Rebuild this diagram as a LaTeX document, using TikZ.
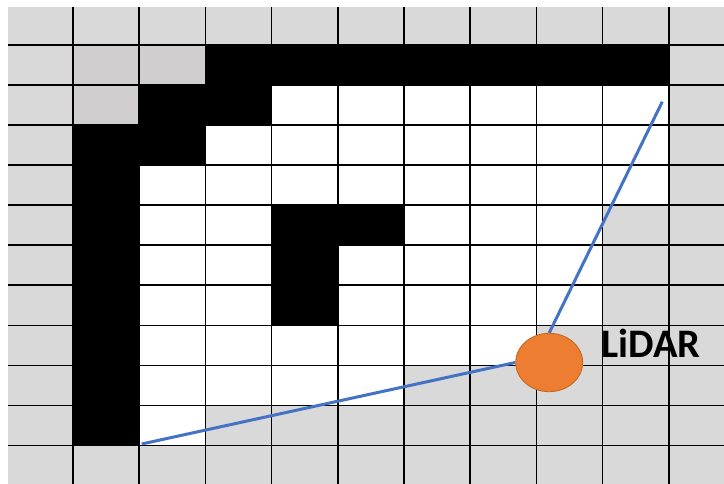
\documentclass[tikz,border=0pt]{standalone}
\usepackage{fontspec}
\setmainfont{Carlito}
\usetikzlibrary{shapes.geometric}
\definecolor{cellgray}{HTML}{D9D9D9}
\definecolor{cornergray}{HTML}{D0CECE}
\definecolor{beamblue}{HTML}{4472C4}
\definecolor{lidarorange}{HTML}{ED7D31}
\definecolor{lidaredge}{HTML}{C0661F}
\pgfdeclarelayer{gridlayer}
\pgfdeclarelayer{beamlayer}
\pgfsetlayers{gridlayer,beamlayer,main}
\newcommand\cellfill[5]{\fill[#1] ({73+66.2*(#2-1)},{45+40.05*(#3-1)}) rectangle ({73+66.2*#4},{45+40.05*#5});}
\tikzset{
  gridline/.style={black, line width=1.7pt},
  beam/.style={beamblue, line width=3pt},
  sensor/.style={ellipse, fill=lidarorange, draw=lidaredge, line width=0.8pt, minimum width=67pt, minimum height=58.4pt, inner sep=0pt},
  sensorlabel/.style={anchor=base west, inner sep=0pt, font=\fontsize{40.5}{40.5}\selectfont\bfseries}
}
\begin{document}
\begin{tikzpicture}[x=1pt, y=-1pt]
\useasboundingbox (0,0) rectangle (724,484);
\begin{pgfonlayer}{gridlayer}
\fill[white] (0,0) rectangle (724,484);
\fill[cellgray] (8,7) rectangle (724,484);
% row 1
\cellfill{cornergray}{1}{1}{2}{1}
\cellfill{black}{3}{1}{9}{1}
% row 2
\cellfill{cornergray}{1}{2}{1}{2}
\cellfill{black}{2}{2}{3}{2}
\cellfill{white}{4}{2}{9}{2}
% row 3
\cellfill{black}{1}{3}{2}{3}
\cellfill{white}{3}{3}{9}{3}
% row 4 and the left wall
\cellfill{black}{1}{4}{1}{10}
\cellfill{white}{2}{4}{9}{4}
% row 5
\cellfill{white}{2}{5}{3}{10}
\cellfill{black}{4}{5}{5}{5}
\cellfill{white}{6}{5}{8}{5}
% rows 6-7
\cellfill{black}{4}{6}{4}{7}
\cellfill{white}{5}{6}{8}{7}
% row 8
\cellfill{white}{4}{8}{7}{8}
% row 9
\cellfill{white}{3}{9}{5}{9}
% row 10
\cellfill{cellgray}{3}{10}{3}{10}
% grid lines
\foreach \i in {0,...,9} {
  \draw[gridline] ({73+66.2*\i},7) -- ({73+66.2*\i},484);
}
\foreach \j in {0,...,10} {
  \draw[gridline] (8,{45+40.05*\j}) -- (724,{45+40.05*\j});
}
\end{pgfonlayer}
% LiDAR
\node[sensor] (lidar) at (549.2,362.5) {};
\coordinate (farleft) at (141.7,444);
\coordinate (farright) at (662.3,101.7);
\begin{pgfonlayer}{beamlayer}
\draw[beam] (farleft) -- (lidar.west);
\draw[beam] (farright) -- (lidar.north);
\end{pgfonlayer}
\node[sensorlabel] (label) at (601.5,357.7) {LiDAR};
\end{tikzpicture}
\end{document}
